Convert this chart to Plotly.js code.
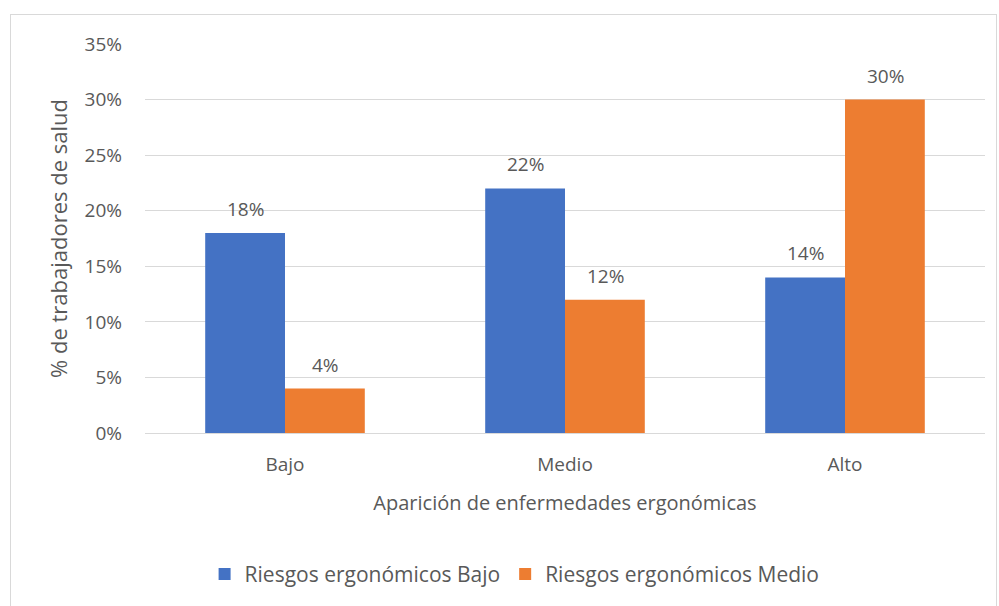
<!DOCTYPE html>
<html><head><meta charset="utf-8">
<script src="https://cdn.plot.ly/plotly-3.0.1.min.js"></script>
<style>
body{margin:0;padding:0;background:#fff;}
#frame{position:absolute;left:10px;top:14px;width:987px;height:600px;border:1px solid #d9d9d9;box-sizing:border-box;}
#chart{position:absolute;left:0;top:0;width:999px;height:606px;}
</style>
</head><body>
<div id="frame"></div>
<div id="chart"></div>
<script>
const categories = ["Bajo", "Medio", "Alto"];
const seriesNames = ["Riesgos ergonómicos Bajo", "Riesgos ergonómicos Medio"];
const bajoValues = [0.18, 0.22, 0.14];
const medioValues = [0.04, 0.12, 0.30];
const yTickVals = [0, 0.05, 0.10, 0.15, 0.20, 0.25, 0.30, 0.35];
const yTickText = ["0%", "5%", "10%", "15%", "20%", "25%", "30%", "35%"];

const fontFam = "'Open Sans', 'Liberation Sans', sans-serif";
const txtColor = "#595959";
const fmt = v => Math.round(v * 100) + "%";

const traces = [
  {type: "bar", name: seriesNames[0], x: categories, y: bajoValues,
   marker: {color: "#4472C4"}, hoverinfo: "skip"},
  {type: "bar", name: seriesNames[1], x: categories, y: medioValues,
   marker: {color: "#ED7D31"}, hoverinfo: "skip"}
];

const annotations = [];
[[bajoValues, -40], [medioValues, 40]].forEach(([vals, dx]) => {
  vals.forEach((v, i) => {
    annotations.push({x: categories[i], y: v, xref: "x", yref: "y", text: fmt(v),
      showarrow: false, xshift: dx, yshift: 24, yanchor: "middle",
      font: {size: 19, color: txtColor, family: fontFam}});
  });
});

const layout = {
  width: 999, height: 606,
  paper_bgcolor: "rgba(0,0,0,0)", plot_bgcolor: "rgba(0,0,0,0)",
  margin: {l: 145, r: 14, t: 44, b: 172},
  barmode: "group", bargap: 0.43, bargroupgap: 0,
  font: {family: fontFam, color: txtColor, size: 19},
  annotations: annotations,
  xaxis: {
    title: {text: "Aparición de enfermedades ergonómicas", font: {size: 20, color: txtColor}, standoff: 20},
    tickfont: {size: 19, color: txtColor}, showgrid: false, showline: true,
    linecolor: "#d9d9d9", linewidth: 1, ticks: "", ticklabelstandoff: 14
  },
  yaxis: {
    title: {text: "% de trabajadores de salud", font: {size: 22, color: txtColor}, standoff: 10},
    range: [0, 0.35], tickvals: yTickVals, ticktext: yTickText,
    tickfont: {size: 19, color: txtColor}, gridcolor: "#d9d9d9", gridwidth: 1,
    zeroline: false, showline: false, ticks: "", ticklen: 0, ticklabelstandoff: 22
  },
  legend: {orientation: "h", x: 0.44, xanchor: "center", y: -0.36, yanchor: "middle",
    font: {size: 21, color: txtColor}, itemwidth: 30, traceorder: "normal"},
  showlegend: true
};

Plotly.newPlot("chart", traces, layout, {displayModeBar: false, staticPlot: true});
</script>
</body></html>
